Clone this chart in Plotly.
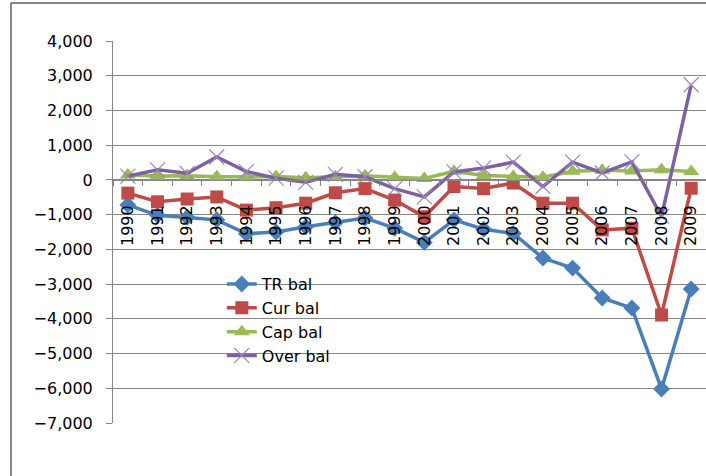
import plotly.graph_objects as go

years = [str(y) for y in range(1990, 2010)]
tr_bal = [-720, -1020, -1080, -1150, -1550, -1500, -1350, -1230, -1100, -1390,
          -1800, -1150, -1420, -1540, -2250, -2540, -3400, -3690, -6020, -3140]
cur_bal = [-380, -630, -550, -490, -870, -800, -670, -370, -250, -580,
           -1060, -190, -250, -90, -670, -670, -1440, -1390, -3890, -240]
cap_bal = [140, 110, 120, 90, 90, 100, 60, 90, 120, 80,
           40, 250, 130, 100, 80, 250, 280, 260, 290, 240]
over_bal = [110, 290, 190, 660, 240, 50, -70, 160, 90, -250,
            -490, 230, 340, 510, -190, 510, 200, 520, -1050, 2740]

y_ticks = list(range(-7000, 5000, 1000))

FONT = "DejaVu Sans"
GRID = "#868686"

fig = go.Figure()
fig.add_trace(go.Scatter(x=years, y=tr_bal, name="TR bal", mode="lines+markers",
                         line=dict(color="#4A7EBB", width=3.5),
                         marker=dict(symbol="diamond", size=13, color="#4A7EBB")))
fig.add_trace(go.Scatter(x=years, y=cur_bal, name="Cur bal", mode="lines+markers",
                         line=dict(color="#BE4B48", width=3.5),
                         marker=dict(symbol="square", size=13, color="#BE4B48")))
fig.add_trace(go.Scatter(x=years, y=cap_bal, name="Cap bal", mode="lines+markers",
                         line=dict(color="#98B954", width=3.5),
                         marker=dict(symbol="triangle-up", size=14, color="#98B954")))
fig.add_trace(go.Scatter(x=years, y=over_bal, name="Over bal", mode="lines+markers",
                         line=dict(color="#7D60A0", width=3.5),
                         marker=dict(symbol="x-thin", size=15, color="#9C85C0",
                                     line=dict(color="#9C85C0", width=1.2))))

fig.update_layout(
    width=706, height=476,
    margin=dict(l=113, r=0, t=41, b=53),
    paper_bgcolor="white", plot_bgcolor="white",
    font=dict(family=FONT, size=16, color="black"),
    showlegend=True,
    legend=dict(x=0.1835, y=0.408, xanchor="left", yanchor="top",
                bgcolor="rgba(0,0,0,0)", font=dict(family=FONT, size=16),
                tracegroupgap=0),
    xaxis=dict(type="category", anchor="free", position=7/11,
               range=[-0.5, len(years) - 0.5], autorange=False,
               showline=True, linecolor=GRID, linewidth=1,
               ticks="outside", tickson="boundaries", ticklen=5, tickcolor=GRID,
               tickangle=-90, showgrid=False, zeroline=False,
               ticklabelstandoff=18, tickfont=dict(family=FONT, size=16)),
    yaxis=dict(range=[-7000, 4000], tickvals=y_ticks, tickformat=",",
               showgrid=True, gridcolor=GRID, gridwidth=1,
               showline=True, linecolor=GRID, linewidth=1,
               ticks="outside", ticklen=6, tickcolor=GRID, zeroline=False,
               ticklabelstandoff=10, tickfont=dict(family=FONT, size=16)),
    shapes=[
        dict(type="line", xref="paper", yref="paper", x0=-0.172, x1=-0.172,
             y0=1.0995, y1=-0.2, line=dict(color=GRID, width=2)),
        dict(type="line", xref="paper", yref="paper", x0=-0.172, x1=1.1,
             y0=1.0995, y1=1.0995, line=dict(color=GRID, width=2)),
    ],
)

fig.write_html("out.html", config={"displayModeBar": False},
               post_script="document.body.style.margin='0';document.body.style.overflow='hidden';")
